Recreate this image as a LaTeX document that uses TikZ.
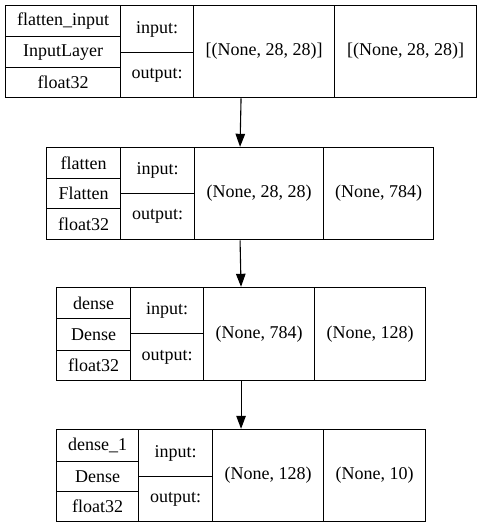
\documentclass[tikz,border=0pt]{standalone}
\usepackage{fontspec}
\setmainfont{Liberation Serif}
\usetikzlibrary{arrows.meta,fit}
\tikzset{
  cell/.style={draw=black, line width=1.1pt, inner sep=0pt, anchor=north west, font=\fontsize{18}{20}\selectfont},
  boxfit/.style={inner sep=0pt, draw=none},
  arr/.style={line width=1.1pt, -{Triangle[length=13pt,width=9.5pt]}}
}
% \cellat{name}{x0}{y0}{x1}{y1}{text}
\newcommand\cellat[6]{%
  \pgfmathsetmacro\cw{#4-#2}\pgfmathsetmacro\ch{#5-#3}%
  \node[cell, minimum width=\cw pt, minimum height=\ch pt] (#1) at (#2pt,-#3pt) {#6};}
% \layerbox{p}{x0}{x1}{x2}{x3}{x4}{y0}{r1}{r2}{y3}{m}  then texts via \layertext
\newcommand\layerbox[9]{%
  \def\Lp{#1}\def\Xa{#2}\def\Xb{#3}\def\Xc{#4}\def\Xd{#5}\def\Xe{#6}\def\Ya{#7}\def\Yb{#8}\def\Yc{#9}\layerboxB}
\newcommand\layerboxB[7]{%
  % #1 = y bottom, #2 = mid, #3 name, #4 type, #5 float, #6 in shape, #7 out shape
  \cellat{\Lp n}{\Xa}{\Ya}{\Xb}{\Yb}{#3}
  \cellat{\Lp t}{\Xa}{\Yb}{\Xb}{\Yc}{#4}
  \cellat{\Lp d}{\Xa}{\Yc}{\Xb}{#1}{#5}
  \cellat{\Lp i}{\Xb}{\Ya}{\Xc}{#2}{input:}
  \cellat{\Lp o}{\Xb}{#2}{\Xc}{#1}{output:}
  \cellat{\Lp a}{\Xc}{\Ya}{\Xd}{#1}{#6}
  \cellat{\Lp b}{\Xd}{\Ya}{\Xe}{#1}{#7}
  \node[boxfit, fit=(\Lp n)(\Lp b)] (\Lp) {};}
\begin{document}
\begin{tikzpicture}
\useasboundingbox (0pt,0pt) rectangle (481pt,-528pt);
\layerbox{L1}{5}{120}{193}{334}{476}{5}{36}{67}{97}{52}{flatten\_input}{InputLayer}{float32}{[(None, 28, 28)]}{[(None, 28, 28)]}
\layerbox{L2}{46}{120}{194}{323}{433}{147}{178}{208}{239}{193}{flatten}{Flatten}{float32}{(None, 28, 28)}{(None, 784)}
\layerbox{L3}{56}{130}{203}{314}{425}{287}{318}{350}{380}{333}{dense}{Dense}{float32}{(None, 784)}{(None, 128)}
\layerbox{L4}{56}{138}{212}{323}{425}{429}{461}{491}{521}{476}{dense\_1}{Dense}{float32}{(None, 128)}{(None, 10)}
\draw[arr] (L1.south) -- (L2.north);
\draw[arr] (L2.south) -- (L3.north);
\draw[arr] (L3.south) -- (L4.north);
\end{tikzpicture}
\end{document}
